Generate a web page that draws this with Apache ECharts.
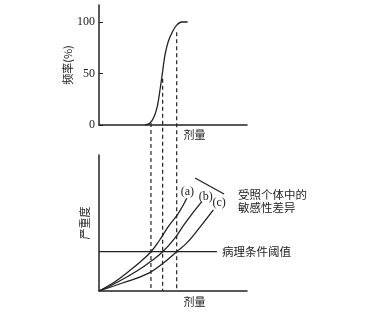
<!DOCTYPE html>
<html><head><meta charset="utf-8">
<script src="https://cdn.jsdelivr.net/npm/echarts@6/dist/echarts.min.js"></script>
<style>html,body{margin:0;padding:0;background:#fff}#c{width:368px;height:321px}</style>
</head><body><div id="c"></div>
<script>
// Top panel: frequency (%) vs dose
const freqCurve = [[3.11,0],[3.45,2],[3.72,8],[3.94,18],[4.12,34],[4.28,50],[4.46,68],[4.68,81],[4.98,91],[5.25,97],[5.59,100],[5.99,100]];
const freqTicks = [0, 50, 100];
// Bottom panel: severity vs dose for three individuals
const curveA = [[0,0],[1.08,0.68],[1.98,1.42],[2.8,2.15],[3.51,2.89],[4.1,3.75],[4.68,4.73],[5.36,5.71],[5.93,6.82]];
const curveB = [[0,0],[1.30,0.68],[2.66,1.54],[3.5,2.18],[4.30,2.89],[5.1,3.85],[5.81,4.98],[6.94,6.57]];
const curveC = [[0,0],[1.53,0.57],[3.33,1.30],[4.3,2.02],[5.25,2.89],[5.9,3.5],[6.49,4.24],[7.73,5.96]];
const curveNames = ['(a)', '(b)', '(c)'];
const thresholdValue = 2.89;
const thresholdRange = [0, 7.97];
const thresholdLabel = '病理条件阈值';
const crossDoses = [3.51, 4.30, 5.25];
const dashTopFreq = [2, 45, 90];
const bracket = [[6.49, 8.31], [8.45, 7.13]];
const bracketText = '受照个体中的\n敏感性差异';
const doseLabel = '剂量';
const doseLabelAt = 6.45;
const freqLabel = '频率(%)';
const sevLabel = '严重度';

const INK = '#222';
const CJK = '"Noto Sans CJK SC", sans-serif';
const SERIF = '"Liberation Serif", serif';

const chart = echarts.init(document.getElementById('c'));

function curveSeries(data, name, offset) {
  return {
    type: 'line', xAxisIndex: 1, yAxisIndex: 1, smooth: 0.5, symbol: 'none',
    lineStyle: {color: INK, width: 1.3},
    endLabel: {show: true, formatter: name, offset: offset, color: INK, fontFamily: SERIF, fontSize: 12},
    data: data
  };
}

chart.setOption({
  animation: false,
  grid: [
    {left: 99, width: 148, top: 5, height: 120},
    {left: 99, width: 148, top: 155, height: 136}
  ],
  xAxis: [
    {gridIndex: 0, type: 'value', min: 0, max: 10, axisLine: {lineStyle: {color: INK, width: 1.5}},
     axisTick: {show: false}, axisLabel: {show: false}, splitLine: {show: false}},
    {gridIndex: 1, type: 'value', min: 0, max: 10, axisLine: {lineStyle: {color: INK, width: 1.5}},
     axisTick: {show: false}, axisLabel: {show: false}, splitLine: {show: false}}
  ],
  yAxis: [
    {gridIndex: 0, type: 'value', min: 0, max: 116.5,
     axisLine: {show: true, lineStyle: {color: INK, width: 1.5}},
     axisTick: {show: true, inside: true, length: 4, customValues: freqTicks, lineStyle: {color: INK}},
     axisLabel: {show: true, customValues: freqTicks, margin: 4, color: INK, fontFamily: SERIF, fontSize: 12},
     splitLine: {show: false},
     name: freqLabel, nameLocation: 'middle', nameRotate: 90, nameGap: 24,
     nameTextStyle: {color: INK, fontFamily: CJK, fontSize: 11}},
    {gridIndex: 1, type: 'value', min: 0, max: 10,
     axisLine: {show: true, lineStyle: {color: INK, width: 1.5}},
     axisTick: {show: false}, axisLabel: {show: false}, splitLine: {show: false},
     name: sevLabel, nameLocation: 'middle', nameRotate: 90, nameGap: 9,
     nameTextStyle: {color: INK, fontFamily: CJK, fontSize: 11}}
  ],
  series: [
    {type: 'line', xAxisIndex: 0, yAxisIndex: 0, smooth: 0.35, symbol: 'none',
     lineStyle: {color: INK, width: 1.3}, data: freqCurve},
    curveSeries(curveA, curveNames[0], [-14, -6]),
    curveSeries(curveB, curveNames[1], [-11, -5]),
    curveSeries(curveC, curveNames[2], [-9, -7]),
    {type: 'line', xAxisIndex: 1, yAxisIndex: 1, symbol: 'none',
     lineStyle: {color: INK, width: 1.3},
     endLabel: {show: true, formatter: thresholdLabel, distance: 5, color: INK, fontFamily: CJK, fontSize: 11.5},
     data: [[thresholdRange[0], thresholdValue], [thresholdRange[1], thresholdValue]]},
    {type: 'line', xAxisIndex: 1, yAxisIndex: 1, symbol: 'none',
     lineStyle: {color: INK, width: 1.3}, data: bracket}
  ]
});

const graphics = [];
crossDoses.forEach((d, i) => {
  const p1 = chart.convertToPixel({gridIndex: 0}, [d, dashTopFreq[i]]);
  const p2 = chart.convertToPixel({gridIndex: 1}, [d, 0]);
  graphics.push({type: 'line', shape: {x1: p1[0], y1: p1[1], x2: p2[0], y2: p2[1]},
    style: {stroke: INK, lineWidth: 1.2, lineDash: [4, 3]}, z: 1});
});
const topDose = chart.convertToPixel({gridIndex: 0}, [doseLabelAt, 0]);
const botDose = chart.convertToPixel({gridIndex: 1}, [doseLabelAt, 0]);
graphics.push({type: 'text', x: topDose[0], y: topDose[1] + 4,
  style: {text: doseLabel, fill: INK, font: '11px ' + CJK, textAlign: 'center', textVerticalAlign: 'top'}});
graphics.push({type: 'text', x: botDose[0], y: botDose[1] + 5,
  style: {text: doseLabel, fill: INK, font: '11px ' + CJK, textAlign: 'center', textVerticalAlign: 'top'}});
const br = chart.convertToPixel({gridIndex: 1}, bracket[1]);
graphics.push({type: 'text', x: br[0] + 14, y: br[1] - 6,
  style: {text: bracketText, fill: INK, font: '11.5px ' + CJK, lineHeight: 13, textAlign: 'left', textVerticalAlign: 'top'}});
chart.setOption({graphic: graphics});
</script>
</body></html>
